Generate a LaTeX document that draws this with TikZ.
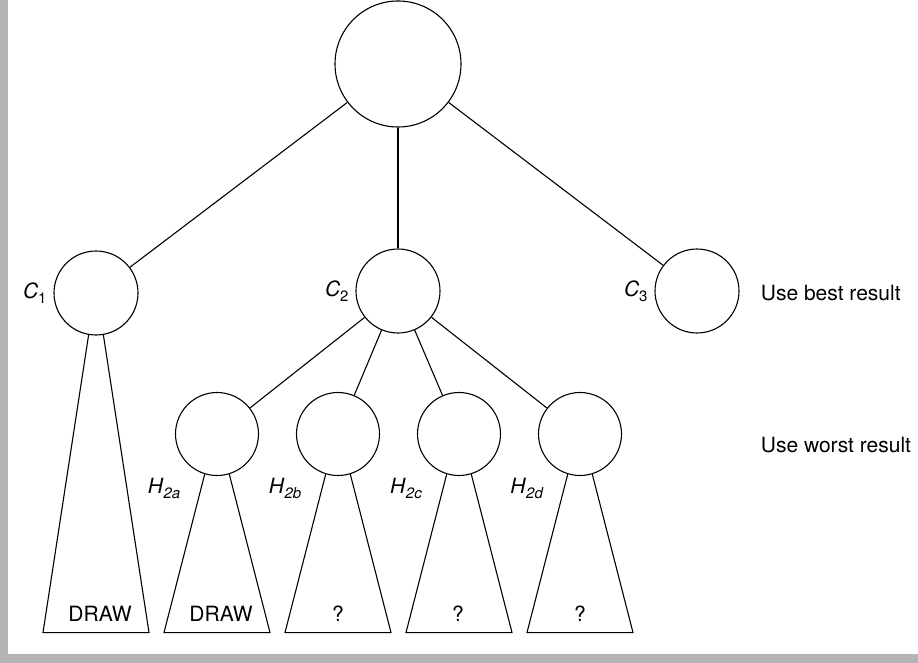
\documentclass[tikz,border=0pt]{standalone}
\usepackage{fontspec}
\setmainfont{TeX Gyre Heros}
\usetikzlibrary{calc}
\definecolor{framegray}{HTML}{B4B4B4}
\newcommand{\lowidx}[1]{\raisebox{-0.45ex}{\fontsize{15}{15}\selectfont #1}}
\tikzset{
	vertex/.style={circle, draw, line width=1.1pt, inner sep=0pt, minimum size=84pt},
	leaf/.style={inner sep=0pt},
}
\begin{document}
\begin{tikzpicture}[x=1pt, y=-1pt, line width=1.1pt, font=\fontsize{21}{25}\selectfont]
	% Frame:
	\useasboundingbox (0,0) rectangle (918,663);
	\fill[framegray] (0,0) rectangle (8,663);
	\fill[framegray] (0,654) rectangle (918,663);
	% Nodes:
	\node[vertex, minimum size=126pt] (root) at (398,64) {};
	\node[vertex] (c1) at (96,293) {};
	\node[vertex] (c2) at (398,291) {};
	\node[vertex] (c3) at (697,291) {};
	\node[anchor=east] (lc1) at ([xshift=-3pt]c1.west) {\textit{C}\lowidx{1}};
	\node[anchor=east] (lc2) at ([xshift=-3pt]c2.west) {\textit{C}\lowidx{2}};
	\node[anchor=east] (lc3) at ([xshift=-3pt]c3.west) {\textit{C}\lowidx{3}};
	\foreach \n/\x in {a/217, b/338, c/459, d/580} {
		\node[vertex, minimum size=83pt] (h\n) at (\x,434) {};
		\node (lh\n) at (\x-53,488) {\textit{H}\lowidx{\textit{2\n}}};
	}
	\node[anchor=west] (best) at (757,293) {Use best result};
	\node[anchor=west] (worst) at (757,445) {Use worst result};
	% Wires:
	\draw (root) -- (c1);
	\draw (root) -- (c2);
	\draw (root) -- (c3);
	\foreach \n in {a, b, c, d}
		\draw (c2) -- (h\n);
	% Subtrees:
	\draw (c1.260) -- ($(c1.south)+(-53,297)$) -- ($(c1.south)+(53,297)$) -- (c1.280);
	\foreach \n in {a, b, c, d}
		\draw (h\n.253) -- ($(h\n.south)+(-53,156.5)$) -- ($(h\n.south)+(53,156.5)$) -- (h\n.287);
	\node[leaf] (t1) at (100,614) {DRAW};
	\node[leaf] (ta) at (221,614) {DRAW};
	\node[leaf] (tb) at (338,614) {?};
	\node[leaf] (tc) at (458,614) {?};
	\node[leaf] (td) at (580,614) {?};
\end{tikzpicture}
\end{document}
